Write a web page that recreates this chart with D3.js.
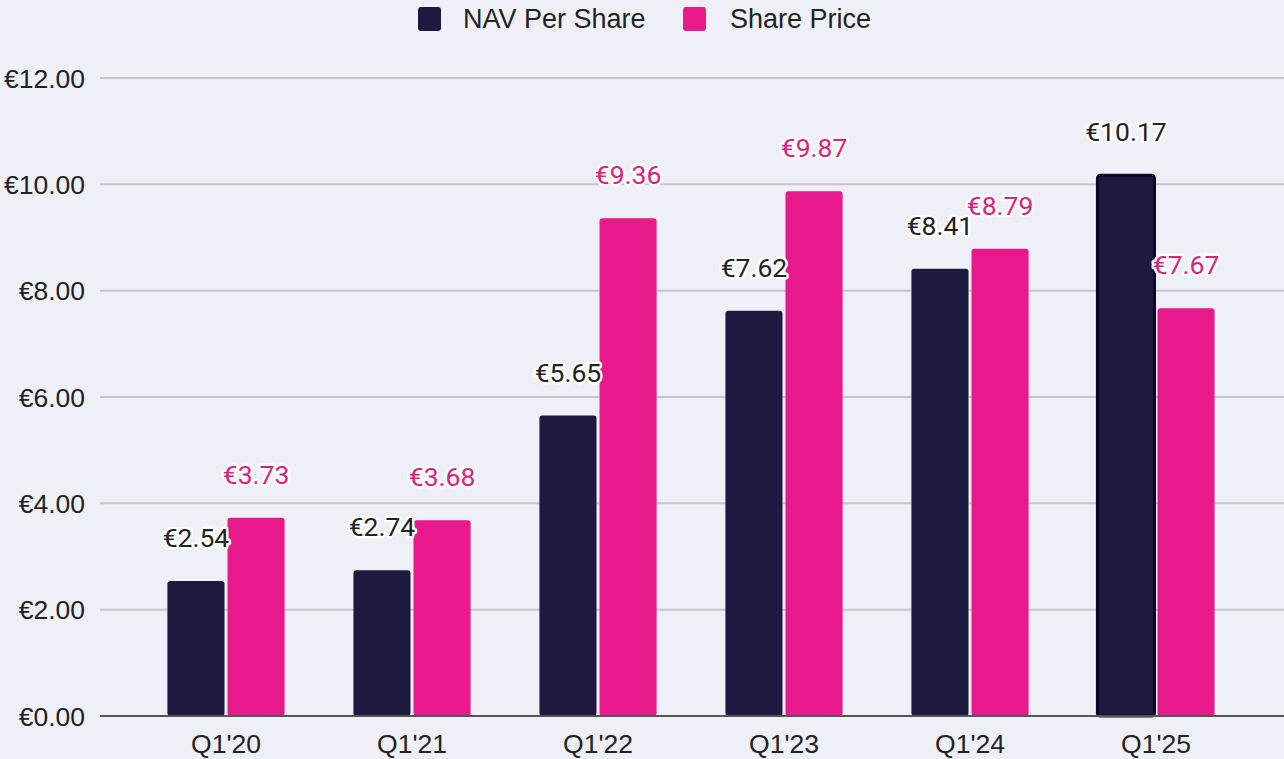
<!DOCTYPE html>
<html>
<head>
<meta charset="utf-8">
<script src="https://cdn.jsdelivr.net/npm/d3@7"></script>
<style>
  body { margin: 0; background: #efeff8; }
  svg { display: block; }
  .tick-label { font-family: "Liberation Sans", Arial, sans-serif; font-size: 26.5px; fill: #222; }
  .legend-label { font-family: "Liberation Sans", Arial, sans-serif; font-size: 27px; fill: #222; }
  .value-label { font-family: Roboto, sans-serif; font-size: 26.5px; paint-order: stroke; stroke: #fff; stroke-width: 5px; stroke-linejoin: round; }
</style>
</head>
<body>
<div id="chart"></div>
<script>
// data
var quarters = ["Q1'20", "Q1'21", "Q1'22", "Q1'23", "Q1'24", "Q1'25"];
var seriesNames = ["NAV Per Share", "Share Price"];
var navPerShare = [2.54, 2.74, 5.65, 7.62, 8.41, 10.17];
var sharePrice = [3.73, 3.68, 9.36, 9.87, 8.79, 7.67];
var yTicks = [0, 2, 4, 6, 8, 10, 12];
var seriesColors = ["#1e1a3f", "#e8198b"];
var labelColors = ["#222222", "#e0207f"];

// svg area
var svgWidth = 1284;
var svgHeight = 759;

var svg = d3.select("#chart")
  .append("svg")
  .attr("width", svgWidth)
  .attr("height", svgHeight);

svg.append("rect")
  .attr("width", svgWidth)
  .attr("height", svgHeight)
  .attr("fill", "#efeff8");

// scales
var yScale = d3.scaleLinear()
  .domain([0, 12])
  .range([716, 78]);

var x0 = d3.scaleBand()
  .domain(quarters)
  .range([133, 1249])
  .paddingInner(0.37)
  .paddingOuter(0.185);

var x1 = d3.scaleBand()
  .domain(seriesNames)
  .range([0, x0.bandwidth()])
  .paddingInner(0.05);

// grid lines
svg.append("g")
  .selectAll("line")
  .data(yTicks.filter(d => d > 0))
  .enter()
  .append("line")
  .attr("x1", 100)
  .attr("x2", svgWidth)
  .attr("y1", d => yScale(d))
  .attr("y2", d => yScale(d))
  .attr("stroke", "#c6c6c9")
  .attr("stroke-width", 2);

// y axis labels
var yAxis = svg.append("g")
  .attr("transform", "translate(85,0)")
  .call(d3.axisLeft(yScale).tickValues(yTicks).tickSize(0).tickPadding(0)
    .tickFormat(d => "€" + d3.format(".2f")(d)));
yAxis.select(".domain").remove();
yAxis.selectAll("text").attr("class", "tick-label").attr("dy", "0.35em");

// bars
var rows = quarters.map((q, i) => ({ q: q, values: [navPerShare[i], sharePrice[i]] }));

var groups = svg.append("g")
  .selectAll("g")
  .data(rows)
  .enter()
  .append("g")
  .attr("transform", d => `translate(${x0(d.q)},0)`);

groups.selectAll("rect")
  .data(d => d.values.map((v, j) => ({ q: d.q, s: seriesNames[j], j: j, v: v })))
  .enter()
  .append("rect")
  .attr("x", d => x1(d.s))
  .attr("y", d => yScale(d.v))
  .attr("width", x1.bandwidth())
  .attr("height", d => yScale(0) - yScale(d.v))
  .attr("rx", 3)
  .attr("fill", d => seriesColors[d.j])
  .attr("stroke", d => (d.q === "Q1'25" && d.j === 0) ? "#0b0728" : "none")
  .attr("stroke-width", 3);

// value labels
groups.selectAll("text")
  .data(d => d.values.map((v, j) => ({ s: seriesNames[j], j: j, v: v })))
  .enter()
  .append("text")
  .attr("class", "value-label")
  .attr("x", d => x1(d.s) + x1.bandwidth() / 2)
  .attr("y", d => yScale(d.v) - 34)
  .attr("text-anchor", "middle")
  .attr("fill", d => labelColors[d.j])
  .text(d => "€" + d3.format(".2f")(d.v));

// zero axis line
svg.append("line")
  .attr("x1", 100)
  .attr("x2", svgWidth)
  .attr("y1", yScale(0))
  .attr("y2", yScale(0))
  .attr("stroke", "#555")
  .attr("stroke-width", 2);

// x axis labels
var xAxis = svg.append("g")
  .attr("transform", `translate(0,${yScale(0)})`)
  .call(d3.axisBottom(x0).tickSize(0).tickPadding(18));
xAxis.select(".domain").remove();
xAxis.selectAll("text").attr("class", "tick-label").attr("dy", "0.71em");

// legend
var legendItems = [{ x: 418, tx: 463 }, { x: 683, tx: 730 }];
var legend = svg.append("g");
legendItems.forEach(function(item, i) {
  legend.append("rect")
    .attr("x", item.x)
    .attr("y", 7)
    .attr("width", 23)
    .attr("height", 24)
    .attr("rx", 3)
    .attr("fill", seriesColors[i]);
  legend.append("text")
    .attr("class", "legend-label")
    .attr("x", item.tx)
    .attr("y", 28)
    .text(seriesNames[i]);
});
</script>
</body>
</html>
